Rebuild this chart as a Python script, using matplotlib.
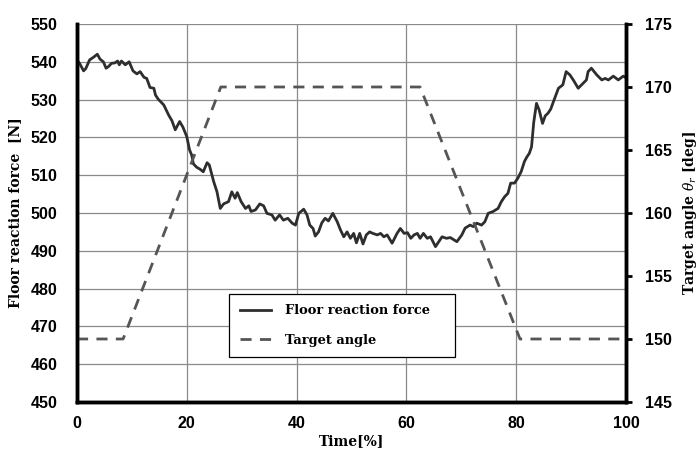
import matplotlib
matplotlib.use("Agg")
import matplotlib.pyplot as plt

time_force = [0.0, 0.5, 1.2, 1.6, 2.3, 3.0, 3.7, 4.2, 4.8, 5.3, 5.7, 6.3, 6.9, 7.4, 7.7, 8.1, 8.8, 9.5,
              10.2, 10.9, 11.5, 12.2, 12.7, 13.3, 14.0, 14.3, 14.8, 15.8, 16.7, 17.3, 17.9, 18.7, 19.3,
              20.0, 20.5, 20.9, 21.2, 21.8, 22.4, 23.0, 23.7, 24.1, 24.9, 25.5, 26.1, 26.7, 27.6, 28.2,
              28.8, 29.2, 29.9, 30.7, 31.3, 31.7, 32.5, 33.3, 34.0, 34.6, 35.5, 36.1, 36.9, 37.6, 38.4,
              39.2, 39.8, 40.4, 41.3, 41.9, 42.4, 43.0, 43.4, 44.0, 44.6, 45.2, 45.8, 46.6, 47.4, 48.0,
              48.6, 49.2, 49.8, 50.4, 50.9, 51.5, 52.1, 52.7, 53.3, 53.9, 54.7, 55.3, 55.9, 56.5, 57.4,
              58.3, 58.9, 59.6, 60.2, 60.8, 61.4, 62.0, 62.5, 63.1, 63.8, 64.4, 65.3, 65.9, 66.5, 67.3,
              68.0, 69.2, 70.1, 70.7, 71.6, 72.2, 72.8, 73.7, 74.3, 74.9, 75.8, 76.7, 77.3, 77.9, 78.5,
              79.0, 79.7, 80.3, 80.9, 81.5, 81.9, 82.4, 82.8, 83.2, 83.7, 84.2, 84.8, 85.3, 85.8, 86.3,
              86.8, 87.7, 88.5, 89.1, 89.8, 90.4, 91.3, 92.2, 92.8, 93.1, 93.7, 94.7, 95.6, 96.2, 96.8,
              97.7, 98.6, 99.5, 100.0]
force = [540.5, 539.5, 537.6, 538.2, 540.5, 541.2, 542.0, 540.7, 540.0, 538.3, 538.7, 539.6, 539.7, 540.2,
         539.2, 540.2, 539.2, 540.0, 537.6, 536.8, 537.4, 535.9, 535.6, 533.2, 533.0, 531.2, 530.1, 528.6,
         525.9, 524.4, 522.0, 524.2, 522.7, 520.2, 516.7, 515.3, 513.0, 512.1, 511.6, 510.9, 513.3, 512.7,
         508.3, 505.6, 501.2, 502.4, 503.0, 505.6, 503.9, 505.4, 503.0, 501.2, 501.9, 500.4, 500.8, 502.4,
         501.9, 499.9, 499.5, 498.1, 499.5, 498.1, 498.6, 497.3, 496.8, 499.9, 501.0, 499.5, 496.8, 495.9,
         493.9, 495.0, 497.4, 498.6, 497.9, 499.9, 497.7, 495.5, 493.7, 495.0, 493.3, 494.6, 492.1, 494.6,
         491.8, 494.2, 495.0, 494.6, 494.2, 494.6, 493.7, 494.2, 492.0, 494.6, 495.9, 494.6, 494.8, 493.3,
         494.2, 494.6, 493.3, 494.6, 493.3, 493.7, 491.1, 492.4, 493.7, 493.3, 493.5, 492.4, 494.2, 496.0,
         496.8, 496.4, 497.3, 496.8, 497.7, 499.9, 500.4, 501.2, 503.0, 504.3, 505.2, 507.9, 507.9, 509.2,
         510.9, 513.6, 514.7, 515.8, 517.5, 524.0, 529.0, 527.2, 523.7, 525.7, 526.4, 527.5, 529.5, 533.0,
         533.9, 537.4, 536.5, 535.2, 533.0, 534.3, 535.2, 537.4, 538.3, 536.5, 535.2, 535.6, 535.2, 536.2,
         535.2, 536.2, 535.8]

time_angle = [0, 8.4, 26.2, 62.5, 80.7, 100]
angle = [150, 150, 170, 170, 150, 150]

x_ticks = [0, 20, 40, 60, 80, 100]
left_ticks = [450, 460, 470, 480, 490, 500, 510, 520, 530, 540, 550]
right_ticks = [145, 150, 155, 160, 165, 170, 175]

plt.rcParams['mathtext.fontset'] = 'dejavuserif'
serif = ['DejaVu Serif']
tickfont = dict(family='Liberation Sans', weight='bold', size=11.5)

fig = plt.figure(figsize=(6.98, 4.5), dpi=100)
ax = fig.add_axes([0.1103, 0.1067, 0.7865, 0.84])
ax2 = ax.twinx()

l1, = ax.plot(time_force, force, color='#2e2e2e', lw=2.0, label='Floor reaction force')
l2, = ax2.plot(time_angle, angle, color='#555555', lw=2.0, dashes=(4, 3), label='Target angle')

ax.set_xlim(0, 100)
ax.set_ylim(450, 550)
ax2.set_ylim(145, 175)
ax.set_xticks(x_ticks)
ax.set_yticks(left_ticks)
ax2.set_yticks(right_ticks)

ax.grid(True, color='#8a8a8a', lw=0.9)
ax.set_axisbelow(True)

for a in (ax, ax2):
    a.spines['top'].set_visible(False)
    for s in ('left', 'bottom', 'right'):
        a.spines[s].set_linewidth(2.5)
        a.spines[s].set_color('black')

ax.tick_params(axis='y', length=0, pad=14)
ax.tick_params(axis='x', length=0, pad=10)
ax2.tick_params(axis='y', length=4, width=2, pad=10, direction='out')

for lab in ax.get_xticklabels() + ax.get_yticklabels() + ax2.get_yticklabels():
    lab.set_fontfamily(tickfont['family'])
    lab.set_fontweight(tickfont['weight'])
    lab.set_fontsize(tickfont['size'])

ax.set_xlabel('Time[%]', family=serif, weight='bold', fontsize=10, labelpad=2)
ax.set_ylabel('Floor reaction force  [N]', family=serif, weight='bold', fontsize=10, labelpad=6)
ax2.set_ylabel(r'Target angle $\theta_r$ [deg]', family=serif, weight='bold', fontsize=10, labelpad=6)

leg = ax.legend([l1, l2], ['Floor reaction force', 'Target angle'],
                loc='lower left', bbox_to_anchor=(0.277, 0.119, 0.412, 0.177), mode='expand',
                borderaxespad=0, fancybox=False, framealpha=1, edgecolor='black', borderpad=0.8,
                labelspacing=1.25, handlelength=2.4, handletextpad=1.1,
                prop=dict(family=serif, weight='bold', size=9.4))
leg.get_frame().set_linewidth(0.9)
leg.set_zorder(5)

fig.savefig('out.png', dpi=100)
